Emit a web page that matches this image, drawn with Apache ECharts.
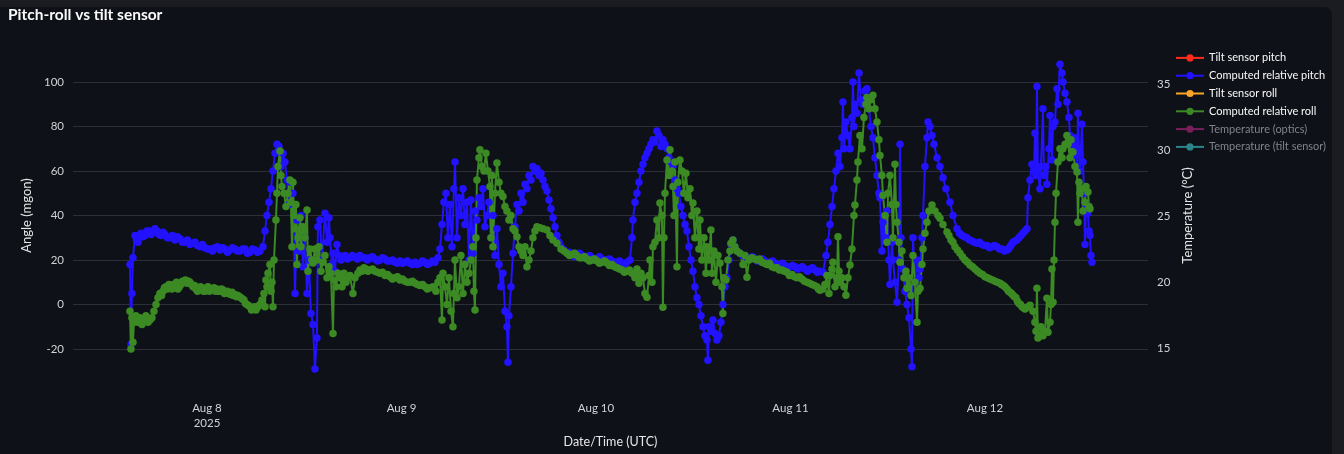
<!DOCTYPE html>
<html><head><meta charset="utf-8">
<script src="https://cdn.jsdelivr.net/npm/echarts@6/dist/echarts.min.js"></script>
<style>
html,body{margin:0;padding:0;background:#1b1c21;width:1344px;height:454px;overflow:hidden}
#wrap{position:absolute;left:0;top:7px;width:1332px;height:447px;background:#0e1117;border-top-right-radius:8px}
#chart{position:absolute;left:0;top:0;width:1344px;height:454px}
</style></head>
<body>
<div id="wrap"></div>
<div id="chart"></div>
<script>
// Time in hours since 2025-08-07 00:00 UTC, value in mgon
const pitchComputed = [
[14.50,18],[14.62,-18],[14.74,5],[14.87,21],[15.12,31],[15.30,29],[15.49,28],[15.67,31],[15.86,32],[16.10,30.5],
[16.35,31],[16.60,33],[16.84,33],[17.10,31.5],[17.34,32.5],[17.58,34],[17.83,33],[18.08,31.5],[18.32,31],[18.57,32.5],
[18.82,31.5],[19.12,30],[19.43,30],[19.74,31],[20.05,29],[20.36,30.5],[20.67,29.5],[20.98,28],[21.28,28],[21.59,29],
[21.90,27],[22.21,27.5],[22.52,28],[22.83,26.5],[23.14,26],[23.44,27],[23.75,25.5],[24.06,25],[24.37,25],[24.68,24],
[24.99,25.5],[25.30,26],[25.60,24.5],[25.91,25.5],[26.22,25],[26.53,23.5],[26.84,24.5],[27.15,25.5],[27.45,25],[27.76,24],
[28.07,24],[28.38,25],[28.69,25],[29.00,23],[29.31,23.5],[29.62,25],[29.92,24.5],[30.23,23.5],[30.54,24],
[30.91,26],[31.16,33],[31.40,40],[31.65,46],[31.90,52],[32.14,60],[32.39,68],[32.64,72],
[32.88,71],[33.13,62],[33.38,68],[33.62,64],[33.87,56],[34.12,45],[34.36,55],[34.61,50],[34.86,5],[35.10,38],
[35.35,24],[35.60,40],[35.84,17],[36.09,30],[36.34,5],[36.58,20],[36.83,-4],[37.08,-9],[37.32,-29],[37.57,-15],
[37.69,35],[37.94,38],[38.19,20],[38.56,41],[38.81,28],[39.05,39],[39.18,30],[39.42,18],[39.55,23],[39.79,15],
[40.04,27],[40.29,22],[40.53,20],[40.78,21.5],[41.03,22],[41.33,20.5],[41.64,21],[41.95,22],[42.26,21.5],[42.57,20.5],
[42.88,22],[43.18,21],[43.49,21],[43.80,20],[44.11,21],[44.42,21.5],[44.73,20.5],[45.04,19.5],[45.35,20],[45.65,21],
[45.96,20.5],[46.27,19.5],[46.58,19.5],[46.89,20],[47.20,19],[47.50,18.5],[47.81,19.5],[48.12,18.5],[48.43,19],[48.74,19.5],
[49.05,18.5],[49.35,18],[49.66,19],[49.97,18],[50.28,18.5],[50.59,19.5],[50.90,19],[51.20,18],[51.51,18.5],[51.82,19.5],
[52.13,19],[52.50,21],[52.75,25],[53.00,36],[53.24,46],[53.49,50],[53.73,30],[53.98,45],[54.23,26],
[54.47,52],[54.60,64],[54.85,30],[55.09,48],[55.34,40],[55.59,52],[55.83,36],[56.08,46],[56.33,20],[56.57,47],
[56.82,23],[57.07,42],[57.31,38],[57.56,48],[57.81,44],[58.05,52],[58.30,35],[58.55,40],[58.79,46],[59.04,30],
[59.29,40],[59.53,22],[59.78,34],[60.03,18],[60.27,8],[60.52,14],[60.77,-3],[61.01,-10],[61.14,-26],[61.26,-5],
[61.51,8],[61.76,23],[62.00,35],[62.25,45],[62.50,42],[62.74,50],[62.99,46],[63.24,54],[63.48,52],[63.73,58],
[63.98,56],[64.22,62],[64.47,60],[64.72,61],[64.96,58],[65.21,59],[65.46,56],[65.70,53],[65.95,51],[66.20,47],
[66.44,43],[66.69,39],[66.94,35],[67.18,31],[67.43,28],[67.68,26],[68.05,24.5],[68.42,23],[68.73,23.5],[69.04,22.5],
[69.35,21.5],[69.65,22],[69.96,23],[70.27,22],[70.58,21],[70.89,21.5],[71.20,22],[71.50,21],[71.81,20],[72.12,20.5],
[72.43,21.5],[72.74,20.5],[73.05,19.5],[73.36,20],[73.66,20.5],[73.97,19.5],[74.28,18.5],[74.59,19],[74.90,19.5],[75.21,18.5],
[75.51,18],[75.82,19],[76.19,20],[76.44,30],[76.56,38],[76.81,46],[77.06,50],[77.30,55],[77.55,60],[77.80,63],[78.04,66],[78.29,68],
[78.54,70],[78.78,72],[79.03,74],[79.28,73],[79.52,78],[79.77,76],[80.02,71],[80.26,74],[80.51,72],[80.76,70],
[81.00,66],[81.25,64],[81.50,62],[81.74,56],[81.99,52],[82.24,50],[82.48,44],[82.73,40],[82.98,36],[83.22,33],
[83.47,26],[83.72,20],[83.96,15],[84.21,8],[84.46,3],[84.70,0],[84.95,-5],[85.20,-10],[85.44,-14],[85.69,-16],
[85.81,-25],[85.94,-10],[86.18,-12],[86.43,-7],[86.68,-13],[86.92,-16],[87.17,-14],[87.42,-8],[87.66,0],[87.91,8],
[88.16,12],[88.40,20],[88.65,27],[88.90,29],[89.14,26],[89.39,24],[89.77,23],[90.08,22],[90.38,22],[90.69,21],
[91.00,21],[91.31,21.5],[91.62,20.5],[91.93,19.5],[92.23,20],[92.54,20.5],[92.85,19.5],[93.16,18.5],[93.47,19],[93.78,19.5],
[94.08,18.5],[94.39,17.5],[94.70,18],[95.01,18.5],[95.32,17.5],[95.62,16.5],[95.93,17],[96.24,17.5],[96.55,17],[96.86,16],
[97.17,16.5],[97.47,17],[97.78,16],[98.09,15],[98.40,16],[98.71,16.5],[99.02,15.5],[99.33,14.5],[99.64,15],[100.01,14.5],
[100.38,22],[100.62,28],[100.87,36],[101.12,44],[101.36,52],[101.61,60],
[101.86,68],[102.10,62],[102.35,75],[102.47,91],[102.60,70],[102.84,82],[103.09,76],[103.34,70],[103.58,84],[103.71,100],
[103.83,80],[103.95,90],[104.20,86],[104.45,104],[104.69,92],[104.94,90],[105.19,96],[105.43,97],[105.68,88],[105.93,80],
[106.17,75],[106.42,66],[106.67,58],[106.91,50],[107.04,48],[107.28,24],[107.41,37],[107.66,30],[107.90,42],[108.15,20],
[108.27,9],[108.52,28],[108.64,20],[108.89,10],[109.14,1],[109.38,20],[109.51,72],[109.63,30],[109.88,16],[110.13,6],
[110.37,0],[110.62,-6],[110.87,-20],[110.99,-28],[111.11,30],[111.36,10],[111.61,20],[111.85,12],[111.98,16],[112.22,30],
[112.35,40],[112.59,62],[112.84,75],[112.97,82],[113.21,80],[113.46,76],[113.71,72],[114.08,66],[114.44,62],[114.81,57],
[115.18,52],[115.68,46],[116.05,40],[116.54,34],[116.85,32],[117.16,31],[117.46,30.5],[117.77,30],[118.08,29],[118.39,28.5],
[118.70,28],[119.01,27.5],[119.31,28],[119.62,27],[119.93,26.5],[120.24,26.5],[120.55,25.5],[120.86,26],[121.16,26.5],[121.47,26],
[121.78,25],[122.09,25],[122.40,24],[122.71,24.5],[122.90,25],[123.08,26],[123.27,27],[123.45,28],[123.70,28.5],[123.94,29],
[124.19,30],[124.44,31],[124.68,32],[124.93,33],[125.18,34],
[125.30,48],[125.55,56],[125.79,63],[126.04,60],[126.16,77],[126.29,58],[126.41,98],[126.53,60],[126.78,52],[126.90,62],
[127.15,88],[127.27,58],[127.52,62],[127.64,54],[127.89,70],[128.02,85],[128.26,65],[128.39,80],[128.63,82],[128.88,97],
[129.00,90],[129.25,108],[129.50,104],[129.62,100],[129.87,95],[130.11,91],[130.36,84],[130.48,76],[130.73,72],[130.85,67],
[131.10,75],[131.35,62],[131.47,86],[131.59,70],[131.72,60],[131.96,81],[132.09,64],[132.21,50],[132.33,27],[132.46,45],
[132.70,41],[132.83,33],[132.95,31],[133.07,22],[133.20,19]
];
const rollComputed = [
[14.50,-3],[14.62,-20],[14.74,-6],[14.87,-17],[14.99,-8],[15.24,-5],[15.49,-8],[15.73,-6],[15.98,-9],[16.23,-7],
[16.47,-5],[16.72,-8],[16.97,-7],[17.21,-6],[17.46,-3],[17.71,0],[17.95,3],[18.20,5],[18.40,4],[18.57,6],
[18.75,7.5],[18.94,8],[19.12,7],[19.31,9],[19.50,8],[19.68,7],[19.87,9],[20.05,8.5],[20.24,10],[20.42,7],
[20.60,8],[20.79,9],[20.98,10.5],[21.16,10],[21.35,11],[21.53,9.5],[21.72,10.5],[21.90,10],[22.09,9],[22.27,8],
[22.46,8.5],[22.64,7],[22.83,6],[23.01,6.5],[23.20,8],[23.38,7],[23.57,6],[23.75,6],[23.94,7.5],[24.12,8],
[24.31,6],[24.49,6.5],[24.68,7],[24.86,7.5],[25.05,6],[25.23,7],[25.42,6],[25.60,6],[25.79,7],[25.97,6.5],
[26.16,5],[26.34,5.5],[26.53,6],[26.71,5],[26.90,4.5],[27.08,5.5],[27.27,4],[27.45,4.5],[27.64,3.5],[27.82,4],
[28.01,3.5],[28.19,3],[28.38,2.5],[28.56,2],[28.75,0.5],[28.93,0],[29.12,-0.5],[29.31,-1],[29.50,-2.5],[29.68,-2],
[29.87,-1],[30.05,-2.5],[30.29,-1],[30.54,0],
[30.79,2],[31.03,5],[31.16,-1],[31.28,11],[31.40,8],[31.53,14],[31.77,18],[31.90,6],
[32.02,10],[32.14,-1],[32.27,20],[32.51,38],[32.64,50],[32.76,62],[33.01,69],[33.13,58],[33.25,53],[33.50,50],
[33.75,44],[33.99,50],[34.24,56],[34.36,46],[34.49,26],[34.61,55],[34.73,40],[34.86,34],[34.98,45],[35.10,18],
[35.23,30],[35.47,39],[35.60,26],[35.84,35],[36.09,30],[36.34,42.5],[36.46,15],[36.71,25],[36.95,20],[37.08,18.6],
[37.32,25],[37.57,20],[37.82,26],[38.07,15],[38.31,19],[38.56,22],[38.81,12],[39.05,17],[39.30,14],[39.55,-13],
[39.67,11],[39.92,8],[40.16,14],[40.41,12],[40.66,8],[40.90,14],[41.15,10],[41.40,12],[41.64,13],[42.01,5],
[42.26,12],[42.63,14],[42.88,15.5],[43.13,15],[43.37,16.5],[43.62,16],[43.87,15],[44.11,15.5],[44.42,16],[44.73,15],
[45.04,14.5],[45.35,14],[45.65,14.5],[45.96,13],[46.27,13.5],[46.58,12.5],[46.89,11.5],[47.20,12],[47.50,12.5],[47.81,11],
[48.12,11.5],[48.43,10.5],[48.74,10],[49.05,10],[49.35,10.5],[49.66,9.5],[49.97,9],[50.28,8.5],[50.59,9],[50.90,8],
[51.20,7],[51.51,7.5],[51.88,8],[52.25,6],[52.50,10],
[52.75,12],[53.00,-7],[53.12,14],[53.37,8],[53.61,0],[53.86,12],[54.11,-3],[54.35,-10],[54.47,5],[54.60,20],
[54.85,3],[55.09,8],[55.34,22],[55.59,5],[55.83,18],[56.08,10],[56.33,14],[56.57,20],[56.82,26],[56.94,6],
[57.07,-2.5],[57.19,30],[57.31,56],[57.56,66],[57.68,69.5],[57.93,62],[58.18,60],[58.42,68],[58.67,60],[58.92,53],
[59.04,30],[59.16,58],[59.29,26],[59.53,50],[59.78,63.6],[60.03,55],[60.27,50],[60.52,48.5],[60.77,44],[61.01,42],
[61.26,38],[61.51,40],[61.76,34],[62.00,33],[62.25,30.5],[62.50,26],[62.74,24],[62.99,22],[63.24,26],[63.48,17],
[63.73,20],[63.98,24],[64.22,30],[64.47,33],[64.72,35],[65.09,34.5],[65.46,34],[65.95,33.5],[66.32,31],[66.69,29],
[67.18,27.5],[67.68,25],[68.05,24],[68.42,23],[68.73,22],[69.04,22.5],[69.35,23],[69.65,22],[69.96,21],[70.27,21],
[70.58,21.5],[70.89,20.5],[71.20,19.5],[71.50,20],[71.81,20.5],[72.12,19.5],[72.43,18.5],[72.74,19],[73.05,19.5],[73.36,18.6],
[73.66,17.5],[73.97,18],[74.28,17],[74.59,16.5],[74.90,16],[75.21,15.5],[75.51,14.5],[75.82,15],[76.13,15.5],[76.44,14],
[76.81,12],[77.06,16],[77.30,9.5],
[77.55,14],[77.80,12],[78.04,5],[78.29,3.3],[78.54,13],[78.66,20],[78.91,10],[79.03,26],[79.28,28],[79.52,38],
[79.77,30],[79.89,45.6],[80.14,40],[80.26,-1.2],[80.39,30],[80.51,50],[80.76,65],[81.00,58],[81.13,69.5],[81.37,60],
[81.50,53],[81.62,40],[81.74,64],[81.99,17],[82.11,55],[82.36,65],[82.61,60],[82.85,50],[83.10,59],[83.35,48],
[83.60,52],[83.84,40],[83.96,45.6],[84.21,30],[84.46,42],[84.70,25],[84.83,38],[85.07,20],[85.32,30],[85.57,14],
[85.69,26],[85.94,20],[86.18,33.5],[86.31,14],[86.55,24],[86.80,10],[87.05,22],[87.30,18.6],[87.54,8],[87.66,-4],
[87.79,12],[88.03,11],[88.28,20],[88.53,24],[88.65,27.5],[88.90,29],[89.14,26],[89.39,24],[89.77,23],[90.14,18],
[90.38,22],[90.63,12.3],[90.88,20],[91.25,21],[91.56,20.5],[91.86,20],[92.17,20.5],[92.48,19],[92.79,18.5],[93.10,18],
[93.40,18.5],[93.71,17],[94.02,16.5],[94.33,16.5],[94.64,15.5],[94.95,15.5],[95.25,15],[95.56,14.5],[95.87,13],[96.18,13.5],
[96.49,12.5],[96.80,12],[97.10,12.5],[97.41,11.5],[97.72,10.5],[98.03,10],[98.34,9.5],[98.65,9],[98.95,8.5],[99.26,8],
[99.45,7],[99.64,6.4],[100.01,7],[100.25,9],
[100.50,13],[100.75,5],[100.87,13],[101.12,16],[101.24,19],[101.49,8],[101.73,12],[101.86,30.5],[101.98,15],[102.10,10],
[102.35,12],[102.60,8],[102.84,4.2],[103.09,12],[103.34,17.7],[103.58,25],[103.83,40],[103.95,44.7],[104.20,56],[104.32,64],
[104.57,76],[104.82,70],[105.06,84],[105.31,90],[105.43,93],[105.68,88],[105.93,92],[106.17,94],[106.42,88],[106.67,82],
[106.91,74],[107.04,67],[107.28,58],[107.41,49],[107.66,40],[107.90,28],[108.03,50],[108.27,58],[108.52,45],[108.64,30],
[108.89,63],[109.01,45],[109.14,37],[109.38,28],[109.51,19],[109.75,24],[110.00,12],[110.25,15],[110.37,7.3],[110.62,12],
[110.87,4],[111.11,22],[111.36,10],[111.61,-8],[111.73,6],[111.98,7.3],[112.22,18],[112.35,25],[112.59,32],[112.84,37],
[113.09,42],[113.46,44.7],[113.83,42],[114.20,40],[114.44,38.8],[114.81,36],[115.31,32.6],[115.55,31],[115.80,29],[116.05,28],
[116.29,26],[116.60,24.5],[116.91,23],[117.22,21.5],[117.53,20],[117.84,19],[118.14,17.7],[118.45,17],[118.76,16],[119.07,15],
[119.38,14],[119.69,13.5],[120.00,12.5],[120.30,12],[120.61,11.5],[120.92,11],[121.23,10.5],[121.54,10],[121.85,9.5],[122.03,9],
[122.22,8.7],[122.46,8],[122.71,7],[122.90,6],[123.08,5.5],[123.27,5],[123.45,4.2],[123.64,3.5],[123.82,3],[124.00,1.5],
[124.19,0.5],[124.38,0],[124.56,-1],[124.75,-1.5],[124.93,-2],[125.12,-1.5],[125.30,-1],
[125.55,-0.3],[125.92,-3],[126.16,-8],
[126.29,-12],[126.41,7.3],[126.53,-15],[126.78,-14],[126.90,-10],[127.15,-14],[127.40,-12],[127.64,2.8],[127.77,-12.5],[128.02,-8],
[128.14,0],[128.26,16],[128.39,1],[128.51,20],[128.63,37],[128.76,50],[129.00,64],[129.25,70],[129.50,66],[129.62,70],
[129.87,72],[130.11,76],[130.24,72],[130.48,66],[130.61,74],[130.85,68.5],[131.10,62],[131.35,59.6],[131.47,37],[131.59,55],
[131.72,50],[131.96,52],[132.09,42],[132.33,46],[132.46,53],[132.70,50.6],[132.83,44],[132.95,43]
];
const tiltPitch = [];
const tiltRoll = [];
const tempOptics = [];
const tempTiltSensor = [];
const angleTicks = [-20, 0, 20, 40, 60, 80, 100];
const tempTicks = [15, 20, 25, 30, 35];
const dayTicks = [24, 48, 72, 96, 120];
const dayLabels = ['Aug 8\n2025', 'Aug 9', 'Aug 10', 'Aug 11', 'Aug 12'];

const FONT = 'Lato';
const chart = echarts.init(document.getElementById('chart'), null, {renderer: 'canvas'});
const lineSeries = (name, data, color, yIdx, withSym) => ({
  name, type: 'line', data, yAxisIndex: yIdx, color,
  symbol: withSym ? 'circle' : 'none', symbolSize: 7.5, showAllSymbol: true,
  lineStyle: {width: 2, color}, itemStyle: {color, borderWidth: 0},
  emphasis: {disabled: true}, animation: false
});
chart.setOption({
  backgroundColor: 'transparent',
  textStyle: {fontFamily: FONT},
  animation: false,
  title: {text: 'Pitch-roll vs tilt sensor', left: 3, top: 2,
    textStyle: {color: '#fafafa', fontSize: 15.5, fontWeight: 'bold', fontFamily: FONT}},
  legend: {
    orient: 'vertical', left: 1170, top: 46, itemWidth: 28, itemHeight: 9, itemGap: 4,
    textStyle: {color: '#fafafa', fontSize: 11, lineHeight: 13.8, fontFamily: FONT},
    data: [
      {name: 'Tilt sensor pitch'}, {name: 'Computed relative pitch'},
      {name: 'Tilt sensor roll'}, {name: 'Computed relative roll'},
      {name: 'Temperature (optics)', textStyle: {color: '#80838b'}},
      {name: 'Temperature (tilt sensor)', textStyle: {color: '#80838b'}}
    ]
  },
  grid: {left: 73, right: 196, top: 46.4, bottom: 69.4, containLabel: false},
  xAxis: {
    type: 'value', min: 7.47, max: 140.11, minInterval: 24, maxInterval: 24,
    name: 'Date/Time (UTC)', nameLocation: 'middle', nameGap: 51,
    nameTextStyle: {color: '#e6e6e8', fontSize: 12.5, fontFamily: FONT},
    axisLine: {show: false}, axisTick: {show: false}, splitLine: {show: false},
    axisLabel: {customValues: dayTicks, color: '#d0d2d6', fontSize: 11.5, margin: 16, lineHeight: 15,
      formatter: v => { const i = dayTicks.indexOf(v); return i >= 0 ? dayLabels[i] : ''; }}
  },
  yAxis: [{
    type: 'value', min: -36, max: 116, minInterval: 20, maxInterval: 20, splitNumber: 8,
    name: 'Angle (mgon)', nameLocation: 'middle', nameGap: 40, nameRotate: 90,
    nameTextStyle: {color: '#e6e6e8', fontSize: 13, fontFamily: FONT},
    axisLine: {show: false}, axisTick: {show: false},
    axisLabel: {customValues: angleTicks, color: '#d0d2d6', fontSize: 11.5, margin: 9},
    splitLine: {show: true, showMinLine: false, showMaxLine: false, lineStyle: {color: '#2c2f37', width: 1}}
  }, {
    type: 'value', min: 12.23, max: 37.85, minInterval: 5, maxInterval: 5, position: 'right',
    name: 'Temperature (°C)', nameLocation: 'middle', nameGap: 33, nameRotate: 90,
    nameTextStyle: {color: '#e6e6e8', fontSize: 13, fontFamily: FONT},
    axisLine: {show: false}, axisTick: {show: false}, splitLine: {show: false},
    axisLabel: {customValues: tempTicks, color: '#d0d2d6', fontSize: 11.5, margin: 9}
  }],
  series: [
    lineSeries('Tilt sensor pitch', tiltPitch, '#ff2b1c', 0, true),
    lineSeries('Computed relative pitch', pitchComputed, '#2212ff', 0, true),
    lineSeries('Tilt sensor roll', tiltRoll, '#f7a628', 0, true),
    lineSeries('Computed relative roll', rollComputed, '#3c8a24', 0, true),
    lineSeries('Temperature (optics)', tempOptics, '#7a1f5c', 1, false),
    lineSeries('Temperature (tilt sensor)', tempTiltSensor, '#2b8589', 1, false)
  ]
});
</script>
</body></html>
